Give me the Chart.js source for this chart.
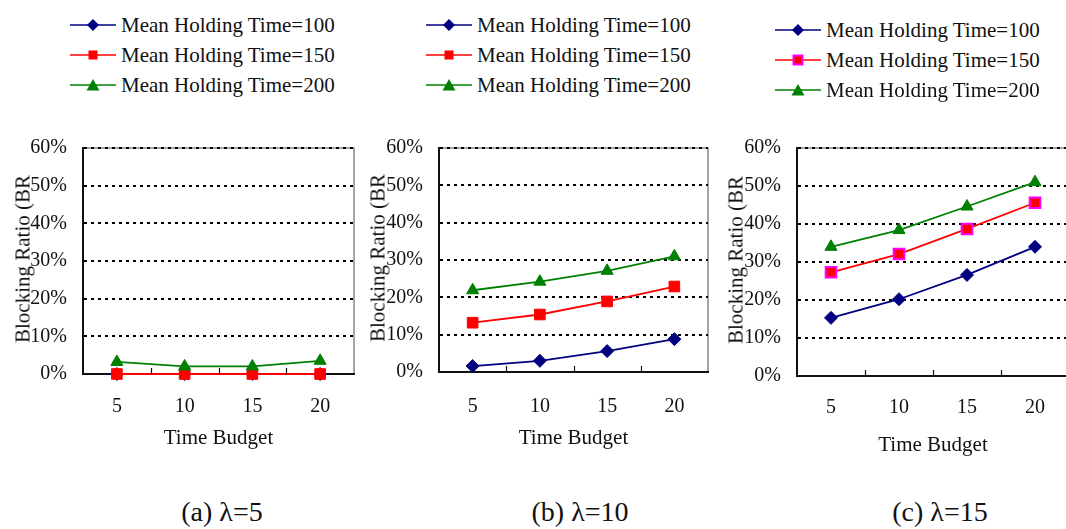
<!DOCTYPE html>
<html>
<head>
<meta charset="utf-8">
<script src="https://cdn.jsdelivr.net/npm/chart.js@4/dist/chart.umd.min.js"></script>
<style>
  html, body { margin: 0; padding: 0; background: #fff; }
  body { width: 1066px; height: 529px; position: relative; overflow: hidden; font-family: 'Liberation Serif', serif; color: #111; }
  .panel-canvas { position: absolute; top: 120px; height: 340px; }
  .legend { position: absolute; font-family: 'Liberation Serif', serif; font-size: 21px; line-height: 30px; }
  .legend .row { display: flex; align-items: center; height: 30px; white-space: nowrap; }
  .legend svg { width: 46px; height: 16px; margin-right: 5px; flex: none; }
  .ytitle { position: absolute; font-family: 'Liberation Serif', serif; font-size: 21px; white-space: nowrap; transform: translate(-50%, -50%) rotate(-90deg); }
  .caption { position: absolute; top: 496px; font-family: 'Liberation Serif', serif; font-size: 28px; white-space: nowrap; transform: translateX(-50%); }
</style>
</head>
<body>

<canvas id="chart-a" class="panel-canvas" style="left:0px;width:370px" width="370" height="340"></canvas>
<canvas id="chart-b" class="panel-canvas" style="left:360px;width:360px" width="360" height="340"></canvas>
<canvas id="chart-c" class="panel-canvas" style="left:715px;width:360px" width="360" height="340"></canvas>

<div class="legend" id="legend-a" style="left:70px;top:10px"></div>
<div class="legend" id="legend-b" style="left:426px;top:10px"></div>
<div class="legend" id="legend-c" style="left:775px;top:15px"></div>

<div class="ytitle" style="left:23px;top:259px">Blocking Ratio (BR</div>
<div class="ytitle" style="left:378px;top:258px">Blocking Ratio (BR</div>
<div class="ytitle" style="left:736px;top:260px">Blocking Ratio (BR</div>

<div class="caption" style="left:222px">(a) λ=5</div>
<div class="caption" style="left:580px">(b) λ=10</div>
<div class="caption" style="left:940px">(c) λ=15</div>

<script>
// Time budget categories and the three holding-time series (blocking ratio, %)
const budgets = ['5', '10', '15', '20'];
const seriesNames = ['Mean Holding Time=100', 'Mean Holding Time=150', 'Mean Holding Time=200'];
const yMax = 60;
const yStep = 10;

// λ = 5
const a100 = [0, 0, 0, 0];
const a150 = [0, 0, 0, 0];
const a200 = [3.2, 2.0, 2.0, 3.5];
// λ = 10
const b100 = [1.6, 3.0, 5.6, 8.8];
const b150 = [13.2, 15.4, 18.9, 22.9];
const b200 = [21.9, 24.2, 27.1, 31.0];
// λ = 15
const c100 = [15.3, 20.2, 26.6, 34.0];
const c150 = [27.3, 32.1, 38.7, 45.6];
const c200 = [34.0, 38.4, 44.6, 51.0];

const NAVY = '#000080';
const RED = '#ff0000';
const GREEN = '#008000';
const MAGENTA = '#ff00ff';
const FONT = "'Liberation Serif', serif";

// gray plot frame under everything, small category ticks on top
const frame = {
  id: 'frame',
  beforeDraw(chart) {
    const { ctx, chartArea: a } = chart;
    ctx.save();
    ctx.strokeStyle = '#888';
    ctx.lineWidth = 1.5;
    ctx.strokeRect(a.left, a.top, a.right - a.left, a.bottom - a.top);
    ctx.restore();
  },
  afterDraw(chart) {
    const { ctx, chartArea: a } = chart;
    const x = chart.scales.x;
    ctx.save();
    ctx.strokeStyle = '#111';
    ctx.lineWidth = 1.2;
    for (let i = 1; i < budgets.length; i++) {
      const px = Math.round((x.getPixelForValue(i - 1) + x.getPixelForValue(i)) / 2) + 0.5;
      ctx.beginPath();
      ctx.moveTo(px, a.bottom);
      ctx.lineTo(px, a.bottom - 6);
      ctx.stroke();
    }
    ctx.restore();
  },
};

function makeChart(id, d100, d150, d200, o) {
  return new Chart(document.getElementById(id), {
    type: 'line',
    data: {
      labels: budgets,
      datasets: [
        { label: seriesNames[0], data: d100, borderColor: NAVY, backgroundColor: NAVY, pointStyle: 'rectRot', pointRadius: 6.5, borderWidth: 1.8, pointBorderWidth: 1, clip: false, order: 3 },
        { label: seriesNames[1], data: d150, borderColor: RED, backgroundColor: RED, pointBorderColor: o.squareEdge || RED, pointStyle: 'rect', pointRadius: 7.5, borderWidth: 1.8, pointBorderWidth: o.squareEdge ? 2 : 1, clip: false, order: 2 },
        { label: seriesNames[2], data: d200, borderColor: GREEN, backgroundColor: GREEN, pointStyle: 'triangle', pointRadius: 7, borderWidth: 1.8, pointBorderWidth: 1, clip: false, order: 1 },
      ],
    },
    options: {
      responsive: false,
      animation: false,
      events: [],
      layout: { autoPadding: false, padding: { left: 0, top: o.top, right: o.right, bottom: 0 } },
      plugins: { legend: { display: false }, tooltip: { enabled: false } },
      scales: {
        x: {
          offset: true,
          grid: { display: false, drawTicks: false },
          border: { display: true, color: '#111', width: 2 },
          ticks: { color: '#111', padding: o.xPad, font: { family: FONT, size: 20 } },
          title: { display: true, text: 'Time Budget', color: '#111', font: { family: FONT, size: 21 }, padding: { top: 0, bottom: o.titlePad } },
          afterFit(s) { s.height = o.xHeight; },
        },
        y: {
          min: 0,
          max: yMax,
          grid: { color: '#000', lineWidth: 2, drawTicks: false },
          border: { display: true, color: '#111', width: 2, dash: [3, 4] },
          ticks: { stepSize: yStep, color: '#111', padding: 16, font: { family: FONT, size: 20 }, callback: (v) => v + '%' },
          afterFit(s) { s.width = o.yWidth; },
        },
      },
    },
    plugins: [frame],
  });
}

makeChart('chart-a', a100, a150, a200, { top: 26, right: 16, yWidth: 83, xHeight: 86, xPad: 21, titlePad: 9.4 });
makeChart('chart-b', b100, b150, b200, { top: 26, right: 12, yWidth: 79, xHeight: 88, xPad: 23, titlePad: 9.4 });
makeChart('chart-c', c100, c150, c200, { top: 28, right: 6, yWidth: 82, xHeight: 84, xPad: 20, titlePad: 2.4, squareEdge: MAGENTA });

// legends: line sample with marker, then the series name
function legendRow(color, marker, name) {
  return `<div class="row"><svg viewBox="0 0 46 16"><line x1="0" y1="8" x2="46" y2="8" stroke="${color}" stroke-width="1.6"/>${marker}</svg><span>${name}</span></div>`;
}
function renderLegend(id, squareEdge) {
  const diamond = `<polygon points="23,2 29,8 23,14 17,8" fill="${NAVY}"/>`;
  const square = `<rect x="18.5" y="3.5" width="9" height="9" fill="${RED}" stroke="${squareEdge || RED}" stroke-width="${squareEdge ? 2 : 0}"/>`;
  const triangle = `<polygon points="23,2 29.5,13.5 16.5,13.5" fill="${GREEN}"/>`;
  document.getElementById(id).innerHTML =
    legendRow(NAVY, diamond, seriesNames[0]) +
    legendRow(RED, square, seriesNames[1]) +
    legendRow(GREEN, triangle, seriesNames[2]);
}
renderLegend('legend-a');
renderLegend('legend-b');
renderLegend('legend-c', MAGENTA);
</script>
</body>
</html>
